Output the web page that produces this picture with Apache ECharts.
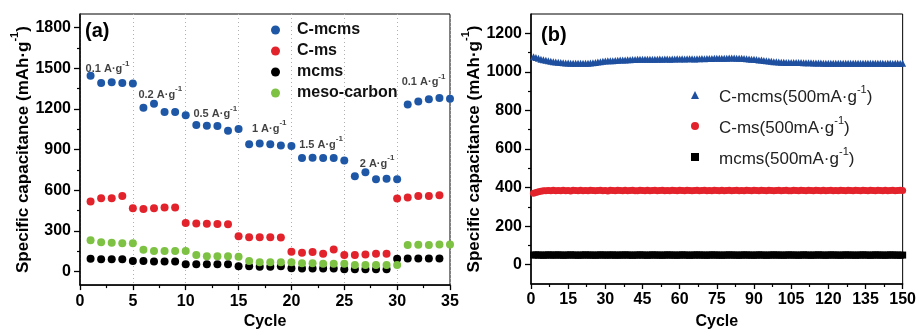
<!DOCTYPE html>
<html>
<head>
<meta charset="utf-8">
<script src="https://cdn.jsdelivr.net/npm/echarts@6/dist/echarts.min.js"></script>
<style>
html, body { margin: 0; padding: 0; background: #fff; }
#main { width: 919px; height: 335px; }
</style>
</head>
<body>
<div id="main"></div>
<script>
// (a) rate test, cycles 1-35
var cycleA = [1,2,3,4,5,6,7,8,9,10,11,12,13,14,15,16,17,18,19,20,21,22,23,24,25,26,27,28,29,30,31,32,33,34,35];
var cmcmsA = [1445,1391,1396,1391,1387,1209,1238,1177,1177,1153,1082,1075,1073,1039,1051,939,944,939,929,927,837,839,837,837,820,703,732,681,684,681,1233,1255,1272,1280,1275];
var cmsA   = [516,540,540,557,467,462,467,472,472,358,355,353,350,348,260,253,253,253,251,146,139,144,131,163,122,122,126,131,131,538,547,557,557,562,null];
var mcmsA  = [95,90,90,90,78,78,75,75,75,54,54,54,54,54,39,39,36,36,39,24,22,22,22,22,17,17,17,17,17,95,97,97,97,97,null];
var mesoA  = [231,216,212,209,209,161,151,151,151,151,122,112,112,112,109,78,68,68,68,68,61,61,58,58,58,49,49,49,49,49,195,197,195,199,199];

// current density labels in (a)
var rateText = ['0.1','0.2','0.5','1','1.5','2','0.1'];
var rateX = [2.6, 7.6, 12.8, 17.9, 22.8, 28.1, 32.5];
var rateY = [1510, 1320, 1175, 1070, 950, 810, 1410];

// (b) cycling at 500 mA/g, cycles 1-150
var cycleB = [];
for (var c = 1; c <= 150; c++) cycleB.push(c);
var cmcmsB = [
1078,1074,1070,1066,1063,1060,1057,1055,1053,1051,
1050,1048,1047,1046,1046,1045,1045,1044,1045,1044,
1045,1044,1045,1046,1047,1049,1051,1053,1055,1056,
1057,1058,1058,1059,1060,1061,1061,1062,1063,1063,
1064,1064,1065,1065,1065,1066,1066,1065,1066,1066,
1066,1067,1066,1067,1067,1066,1067,1067,1068,1067,
1068,1067,1068,1068,1068,1067,1068,1068,1069,1068,
1069,1069,1069,1070,1070,1070,1071,1071,1071,1072,
1072,1072,1071,1071,1070,1069,1068,1067,1066,1065,
1064,1062,1061,1059,1058,1056,1055,1053,1052,1051,
1050,1050,1049,1049,1049,1048,1048,1048,1048,1047,
1047,1047,1047,1046,1046,1046,1046,1045,1045,1045,
1045,1045,1045,1045,1044,1045,1045,1044,1045,1044,
1044,1045,1044,1044,1045,1044,1044,1044,1045,1044,
1044,1044,1043,1044,1044,1043,1044,1044,1043,1044];
var cmsB = [
370,374,378,381,383,384,385,383,386,384,
385,383,386,384,385,382,386,385,384,386,
383,385,384,386,385,383,385,386,384,385,
382,386,385,384,386,385,383,386,384,385,
386,384,383,386,385,384,386,383,385,386,
384,385,386,383,385,384,386,385,383,386,
385,384,386,385,383,385,386,384,385,386,
383,385,384,386,385,384,386,383,385,386,
384,385,386,383,385,384,386,385,384,386,
385,383,386,385,384,386,385,383,385,386,
384,385,386,384,383,386,385,384,386,385,
383,386,385,384,386,385,383,386,384,385,
386,384,385,383,386,385,384,386,385,383,
386,385,384,386,385,383,386,385,384,386,
385,384,386,383,385,386,384,385,386,385];
var mcmsB = [
50,51,50,50,49,50,51,50,50,50,
51,50,49,50,50,51,50,50,49,50,
50,51,50,50,50,49,50,51,50,50,
50,50,51,49,50,50,50,51,50,50,
49,50,50,51,50,50,49,50,51,50,
50,50,49,50,51,50,50,50,49,50,
51,50,50,49,50,50,51,50,50,50,
49,50,51,50,50,50,49,50,50,51,
50,50,50,49,50,51,50,50,50,49,
50,51,50,50,49,50,50,51,50,50,
50,49,50,51,50,50,50,49,50,51,
50,50,49,50,50,51,50,50,49,50,
51,50,50,50,49,50,51,50,50,50,
49,50,50,51,50,50,49,50,51,50,
50,50,49,50,51,50,50,50,49,50];

var legendB = {
    'C-mcms b': 'C-mcms(500mA·g',
    'C-ms b': 'C-ms(500mA·g',
    'mcms b': 'mcms(500mA·g'
};

var FONT = '"Liberation Sans", Arial, Helvetica, sans-serif';
var BLUE = '#1d57a6', RED = '#e3232c', BLACK = '#000000', GREEN = '#7dc243';

function pairs(xs, ys) {
    var out = [];
    for (var i = 0; i < xs.length; i++) {
        if (ys[i] != null) out.push([xs[i], ys[i]]);
    }
    return out;
}
function range(a, b, step) {
    var out = [];
    for (var v = a; v <= b; v += step) out.push(v);
    return out;
}
function plain(v) { return String(v); }

var titleRich = {
    t: { fontSize: 17, fontWeight: 'bold', fontFamily: FONT, color: '#000', lineHeight: 22, verticalAlign: 'bottom' },
    s: { fontSize: 11, fontWeight: 'bold', fontFamily: FONT, color: '#000', lineHeight: 11, verticalAlign: 'top' }
};

function xAxisCfg(grid, max, step, showSplit) {
    return {
        type: 'value', gridIndex: grid, min: 0, max: max, interval: step,
        name: 'Cycle', nameLocation: 'middle', nameGap: grid == 0 ? 28 : 30,
        nameTextStyle: { fontSize: 16, fontWeight: 'bold', fontFamily: FONT, color: '#000' },
        axisLine: { onZero: false, lineStyle: { color: '#000', width: 1.5 } },
        axisTick: { length: 5, lineStyle: { color: '#000', width: 1.3 } },
        minorTick: { show: true, splitNumber: 2, length: 3, lineStyle: { color: '#000', width: 1.2 } },
        axisLabel: { fontSize: 16, fontWeight: 'bold', fontFamily: FONT, color: '#000', margin: 8, formatter: plain },
        splitLine: { show: showSplit, lineStyle: { type: [1, 3], color: '#b0b0b0', width: 1 } }
    };
}
function yAxisCfg(grid, min, max, labels, gap) {
    return {
        type: 'value', gridIndex: grid, min: min, max: max, position: 'left',
        name: '{t|Specific capacitance (mAh·g}{s|-1}{t|)}',
        nameLocation: 'middle', nameGap: gap, nameRotate: 90,
        nameTextStyle: { rich: titleRich },
        axisLine: { onZero: false, lineStyle: { color: '#000', width: 1.5 } },
        axisTick: { length: 6, customValues: labels, lineStyle: { color: '#000', width: 1.3 } },
        axisLabel: { fontSize: 16, fontWeight: 'bold', fontFamily: FONT, color: '#000', margin: 9,
                     customValues: labels, formatter: plain },
        splitLine: { show: false }
    };
}
function yMinorCfg(grid, min, max, ticks) {
    return {
        type: 'value', gridIndex: grid, min: min, max: max, position: 'left', offset: 0,
        axisLine: { show: false },
        axisTick: { length: 3, customValues: ticks, lineStyle: { color: '#000', width: 1.2 } },
        axisLabel: { show: false, customValues: ticks },
        splitLine: { show: false }
    };
}

var dom = document.getElementById('main');
var myChart = echarts.init(dom);

var option = {
    animation: false,
    backgroundColor: '#fff',
    grid: [
        { left: 80, right: 469, top: 14, bottom: 47, show: true, borderColor: '#000', borderWidth: 1 },
        { left: 531, right: 13, top: 14, bottom: 45, show: true, borderColor: '#000', borderWidth: 1 }
    ],
    xAxis: [
        xAxisCfg(0, 35, 5, true),
        xAxisCfg(1, 150, 15, false)
    ],
    yAxis: [
        yAxisCfg(0, -100, 1900, range(0, 1800, 300), 44),
        yMinorCfg(0, -100, 1900, range(150, 1650, 300)),
        yAxisCfg(1, -100, 1300, range(0, 1200, 200), 36),
        yMinorCfg(1, -100, 1300, range(100, 1100, 200))
    ],
    legend: [
        {
            data: ['C-mcms', 'C-ms', 'mcms', 'meso-carbon'],
            orient: 'vertical', left: 266, top: 17, itemGap: 5,
            itemWidth: 9, itemHeight: 9, icon: 'circle',
            textStyle: { fontSize: 16, fontWeight: 'bold', fontFamily: FONT, color: '#111', lineHeight: 16, padding: [0, 0, 0, 12] }
        },
        {
            data: [
                { name: 'C-mcms b', icon: 'triangle' },
                { name: 'C-ms b', icon: 'circle' },
                { name: 'mcms b', icon: 'rect' }
            ],
            orient: 'vertical', left: 686, top: 79, itemGap: 9,
            itemWidth: 8, itemHeight: 8,
            formatter: function (name) {
                return '{n|' + legendB[name] + '}{s|-1}{n|)}';
            },
            textStyle: {
                padding: [0, 0, 0, 15],
                rich: {
                    n: { fontSize: 17, fontFamily: FONT, color: '#222', lineHeight: 22, verticalAlign: 'bottom' },
                    s: { fontSize: 11, fontFamily: FONT, color: '#222', lineHeight: 11, verticalAlign: 'top' }
                }
            }
        }
    ],
    graphic: [
        { type: 'text', left: 85, top: 21, style: { text: '(a)', font: 'bold 20px ' + FONT, fill: '#000' } },
        { type: 'text', left: 541, top: 25, style: { text: '(b)', font: 'bold 20px ' + FONT, fill: '#000' } }
    ],
    series: [
        { name: 'C-mcms', type: 'scatter', xAxisIndex: 0, yAxisIndex: 0, symbol: 'circle', symbolSize: 8,
          itemStyle: { color: BLUE, opacity: 1 }, data: pairs(cycleA, cmcmsA) },
        { name: 'C-ms', type: 'scatter', xAxisIndex: 0, yAxisIndex: 0, symbol: 'circle', symbolSize: 8,
          itemStyle: { color: RED, opacity: 1 }, data: pairs(cycleA, cmsA) },
        { name: 'mcms', type: 'scatter', xAxisIndex: 0, yAxisIndex: 0, symbol: 'circle', symbolSize: 8,
          itemStyle: { color: BLACK, opacity: 1 }, data: pairs(cycleA, mcmsA) },
        { name: 'meso-carbon', type: 'scatter', xAxisIndex: 0, yAxisIndex: 0, symbol: 'circle', symbolSize: 8,
          itemStyle: { color: GREEN, opacity: 1 }, data: pairs(cycleA, mesoA) },
        {
            name: 'rates', type: 'scatter', xAxisIndex: 0, yAxisIndex: 0, symbolSize: 1, silent: true,
            itemStyle: { color: 'rgba(0,0,0,0)' },
            data: rateX.map(function (x, i) { return { name: rateText[i], value: [x, rateY[i]] }; }),
            label: {
                show: true, position: 'inside',
                formatter: function (p) { return '{a|' + p.name + ' A·g}{s|-1}'; },
                rich: {
                    a: { fontSize: 11, fontWeight: 'bold', fontFamily: FONT, color: '#111', lineHeight: 15, verticalAlign: 'bottom' },
                    s: { fontSize: 8, fontWeight: 'bold', fontFamily: FONT, color: '#111', lineHeight: 8, verticalAlign: 'top' }
                }
            }
        },
        { name: 'C-mcms b', type: 'scatter', xAxisIndex: 1, yAxisIndex: 2, symbol: 'triangle', symbolSize: 7,
          itemStyle: { color: '#1f4f9f', opacity: 1 }, data: pairs(cycleB, cmcmsB) },
        { name: 'C-ms b', type: 'scatter', xAxisIndex: 1, yAxisIndex: 2, symbol: 'circle', symbolSize: 7,
          itemStyle: { color: RED, opacity: 1 }, data: pairs(cycleB, cmsB) },
        { name: 'mcms b', type: 'scatter', xAxisIndex: 1, yAxisIndex: 2, symbol: 'rect', symbolSize: 7,
          itemStyle: { color: BLACK, opacity: 1 }, data: pairs(cycleB, mcmsB) }
    ]
};

myChart.setOption(option);
</script>
</body>
</html>
